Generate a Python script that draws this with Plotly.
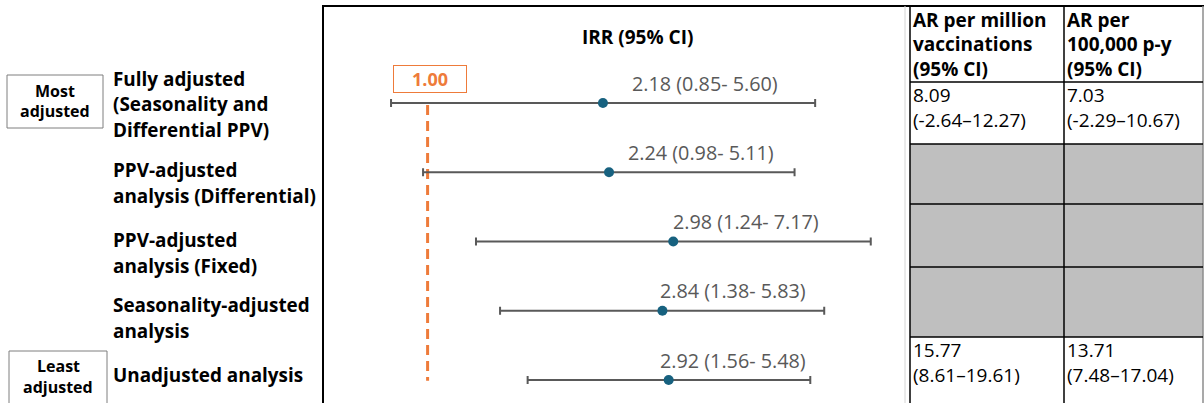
import math
import plotly.graph_objects as go

W, H = 1204, 403

# ---- data -------------------------------------------------------------
analyses = [
    ["Fully adjusted", "(Seasonality and", "Differential PPV)"],
    ["PPV-adjusted", "analysis (Differential)"],
    ["PPV-adjusted", "analysis (Fixed)"],
    ["Seasonality-adjusted", "analysis"],
    ["Unadjusted analysis"],
]
irr = [2.18, 2.24, 2.98, 2.84, 2.92]
irr_lo = [0.85, 0.98, 1.24, 1.38, 1.56]
irr_hi = [5.60, 5.11, 7.17, 5.83, 5.48]
null_value = 1.00

# attributable risk per million vaccinations (None = not estimated)
ar_million = [8.09, None, None, None, 15.77]
ar_million_lo = [-2.64, None, None, None, 8.61]
ar_million_hi = [12.27, None, None, None, 19.61]
# attributable risk per 100,000 person-years
ar_py = [7.03, None, None, None, 13.71]
ar_py_lo = [-2.29, None, None, None, 7.48]
ar_py_hi = [10.67, None, None, None, 17.04]

table_headers = [
    ["AR per million", "vaccinations", "(95% CI)"],
    ["AR per", "100,000 p-y", "(95% CI)"],
]
irr_title = "IRR (95% CI)"

# ---- styling ----------------------------------------------------------
FONT = "Open Sans"
GREY_TXT = "#595959"
ORANGE = "#EE7B3A"
POINT = "#17617F"


def fx(p):
    return p / W


def fy(p):
    return 1 - p / H


# forest panel: log axis, ~518 px per decade, IRR=1 at x≈427.6 px
ax_left, ax_right = 323, 907
px_per_dec = 518.0
px_one = 427.6
x_range = [(ax_left - px_one) / px_per_dec, (ax_right - px_one) / px_per_dec]
row_top, row_step = 103.0, 69.25
y_range = [(H - row_top) / row_step, -row_top / row_step]

rows = list(range(len(irr)))

fig = go.Figure()

# reference line at IRR = 1
fig.add_trace(go.Scatter(
    x=[null_value, null_value], y=[0.03, rows[-1] + 0.01], mode="lines",
    line=dict(color=ORANGE, width=3, dash="10px,6px"),
    hoverinfo="skip", showlegend=False,
))

# point estimates with confidence intervals
fig.add_trace(go.Scatter(
    x=irr, y=rows, mode="markers",
    marker=dict(color=POINT, size=10),
    error_x=dict(
        type="data", symmetric=False,
        array=[h - e for h, e in zip(irr_hi, irr)],
        arrayminus=[e - l for e, l in zip(irr, irr_lo)],
        color=GREY_TXT, thickness=2, width=4,
    ),
    showlegend=False,
))

annotations = []
shapes = []


def text(x, y, s, size, bold=False, color="black", anchor="left"):
    annotations.append(dict(
        x=fx(x), y=fy(y), xref="paper", yref="paper",
        text=f"<b>{s}</b>" if bold else s, showarrow=False,
        xanchor=anchor, yanchor="middle", borderpad=0,
        font=dict(family=FONT, size=size, color=color),
    ))


def line(x0, y0, x1, y1, color="black", width=1.5):
    shapes.append(dict(
        type="line", xref="paper", yref="paper",
        x0=fx(x0), y0=fy(y0), x1=fx(x1), y1=fy(y1),
        line=dict(color=color, width=width),
    ))


# estimate labels above each interval
label_shift = [27, 17, -2, -4, -11]
for i, (e, lo, hi) in enumerate(zip(irr, irr_lo, irr_hi)):
    annotations.append(dict(
        x=math.log10(e), y=i, xref="x", yref="y",
        text=f"{e:.2f} ({lo:.2f}- {hi:.2f})", showarrow=False,
        xanchor="left", yanchor="middle", xshift=label_shift[i], yshift=20,
        font=dict(family=FONT, size=19.8, color=GREY_TXT),
    ))

# boxed label for the null value
annotations.append(dict(
    x=math.log10(null_value), y=fy(78.5), xref="x", yref="paper",
    text=f"<b>{null_value:.2f}</b>", showarrow=False, xshift=2,
    xanchor="center", yanchor="middle",
    font=dict(family=FONT, size=18, color=ORANGE),
    bordercolor=ORANGE, borderwidth=1, borderpad=3, width=66, height=20,
))

text(637.5, 37, irr_title, 19, bold=True, anchor="center")

# analysis labels on the left
label_rows = [[78.5, 104, 129.5], [170, 196], [240, 266], [304.5, 330.5], [375]]
for lines_, ys in zip(analyses, label_rows):
    for s, y in zip(lines_, ys):
        text(112, y, s, 18.9, bold=True)

# "most / least adjusted" boxes
for (x0, y0, x1, y1), words, ys in [
    ((7, 75, 103, 128), ["Most", "adjusted"], [91, 111]),
    ((9, 351, 107, 412), ["Least", "adjusted"], [366, 387]),
]:
    shapes.append(dict(type="rect", xref="paper", yref="paper",
                       x0=fx(x0), y0=fy(y0), x1=fx(x1), y1=fy(y1),
                       line=dict(color="#7F7F7F", width=1)))
    for wd, y in zip(words, ys):
        text((x0 + x1) / 2, y, wd, 16, bold=True, anchor="center")

# frame of the forest panel
line(323, 6, 323, H + 2, width=2)
line(322, 6, W, 6, width=2)
line(905, 6, 905, H + 2, color="#D4D4D4", width=1)

# AR table
col_x = [910, 1064, 1203]
row_y = [82, 144, 204, 267, 337, H + 2]
for r in range(len(irr)):
    if ar_million[r] is None:
        shapes.append(dict(type="rect", xref="paper", yref="paper",
                           x0=fx(col_x[0]), x1=fx(col_x[2]),
                           y0=fy(row_y[r]), y1=fy(row_y[r + 1]),
                           fillcolor="#BFBFBF", line=dict(width=0), layer="below"))
for x in col_x:
    line(x, 6, x, H + 2, color="black" if x < 1200 else "#8C8C8C", width=1.5)
for y in row_y[:-1]:
    line(col_x[0], y, col_x[2], y, width=1.5)

for c, hdr in enumerate(table_headers):
    for s, y in zip(hdr, [20.5, 44.5, 68.5]):
        text(col_x[c] + 2, y, s, 19, bold=True)

for r in range(len(irr)):
    if ar_million[r] is None:
        continue
    y0 = row_y[r] + 13
    for c, (v, lo, hi) in enumerate([(ar_million[r], ar_million_lo[r], ar_million_hi[r]),
                                     (ar_py[r], ar_py_lo[r], ar_py_hi[r])]):
        text(col_x[c] + 2, y0, f"{v:.2f}", 19)
        text(col_x[c] + 2, y0 + 25, f"({lo:.2f}\u2013{hi:.2f})", 19)

fig.update_layout(
    width=W, height=H, margin=dict(l=0, r=0, t=0, b=0),
    paper_bgcolor="white", plot_bgcolor="white",
    xaxis=dict(type="log", range=x_range, domain=[fx(ax_left), fx(ax_right)],
               visible=False, showgrid=False, zeroline=False),
    yaxis=dict(range=y_range, domain=[0, 1], visible=False,
               showgrid=False, zeroline=False),
    shapes=shapes, annotations=annotations,
)

fig.write_html("out.html")
